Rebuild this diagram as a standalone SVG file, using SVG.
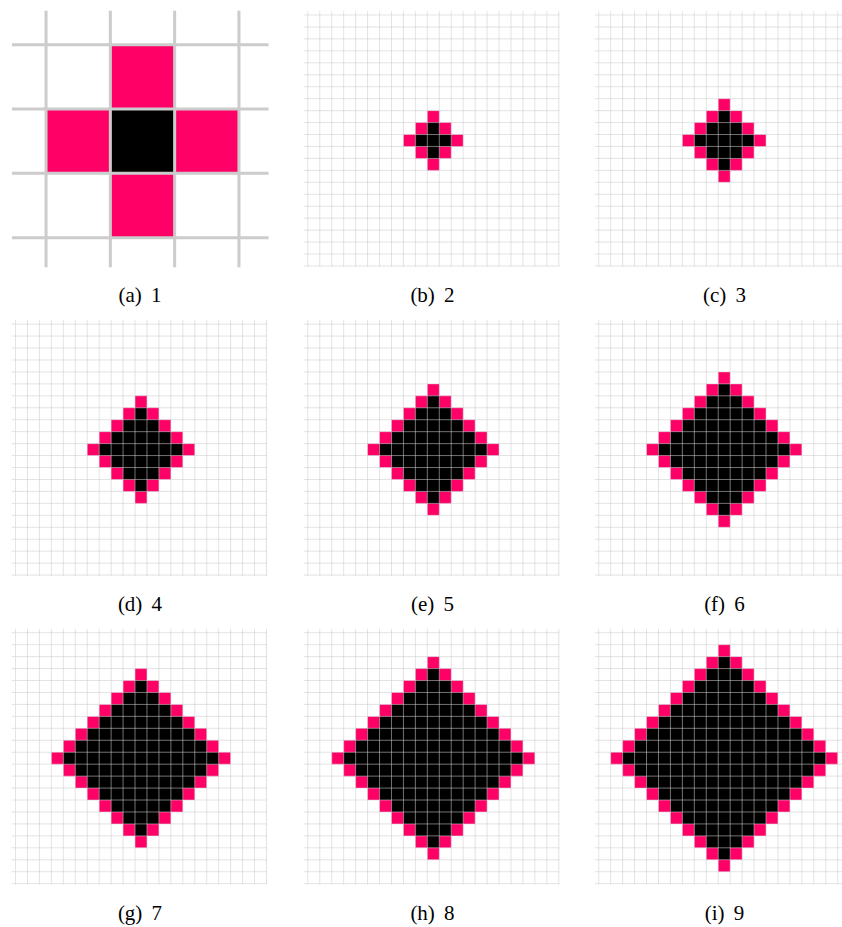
<svg xmlns="http://www.w3.org/2000/svg" xmlns:xlink="http://www.w3.org/1999/xlink" width="842" height="927" viewBox="0 0 842 927">
<style>
.grid{fill:none;stroke:#cccccc;stroke-width:0.047}
.pink{fill:#ff0066}
.blk{fill:#000000}
.lbl{font-family:"Liberation Serif","DejaVu Serif",serif;font-size:21px;text-anchor:middle;fill:#000;word-spacing:4px}
</style>
<defs>
<path id="fg" d="M-10.5 -10.83V10.55M-9.5 -10.83V10.55M-8.5 -10.83V10.55M-7.5 -10.83V10.55M-6.5 -10.83V10.55M-5.5 -10.83V10.55M-4.5 -10.83V10.55M-3.5 -10.83V10.55M-2.5 -10.83V10.55M-1.5 -10.83V10.55M-.5 -10.83V10.55M.5 -10.83V10.55M1.5 -10.83V10.55M2.5 -10.83V10.55M3.5 -10.83V10.55M4.5 -10.83V10.55M5.5 -10.83V10.55M6.5 -10.83V10.55M7.5 -10.83V10.55M8.5 -10.83V10.55M9.5 -10.83V10.55M10.5 -10.83V10.55M-10.83 -10.5H10.55M-10.83 -9.5H10.55M-10.83 -8.5H10.55M-10.83 -7.5H10.55M-10.83 -6.5H10.55M-10.83 -5.5H10.55M-10.83 -4.5H10.55M-10.83 -3.5H10.55M-10.83 -2.5H10.55M-10.83 -1.5H10.55M-10.83 -.5H10.55M-10.83 .5H10.55M-10.83 1.5H10.55M-10.83 2.5H10.55M-10.83 3.5H10.55M-10.83 4.5H10.55M-10.83 5.5H10.55M-10.83 6.5H10.55M-10.83 7.5H10.55M-10.83 8.5H10.55M-10.83 9.5H10.55M-10.83 10.5H10.55"/>
<path id="d0" d="M-.5 -.5h1v1h-1z"/>
<path id="d1" d="M-.5 -1.5h1v1h-1zM-1.5 -.5h3v1h-3zM-.5 .5h1v1h-1z"/>
<path id="d2" d="M-.5 -2.5h1v1h-1zM-1.5 -1.5h3v1h-3zM-2.5 -.5h5v1h-5zM-1.5 .5h3v1h-3zM-.5 1.5h1v1h-1z"/>
<path id="d3" d="M-.5 -3.5h1v1h-1zM-1.5 -2.5h3v1h-3zM-2.5 -1.5h5v1h-5zM-3.5 -.5h7v1h-7zM-2.5 .5h5v1h-5zM-1.5 1.5h3v1h-3zM-.5 2.5h1v1h-1z"/>
<path id="d4" d="M-.5 -4.5h1v1h-1zM-1.5 -3.5h3v1h-3zM-2.5 -2.5h5v1h-5zM-3.5 -1.5h7v1h-7zM-4.5 -.5h9v1h-9zM-3.5 .5h7v1h-7zM-2.5 1.5h5v1h-5zM-1.5 2.5h3v1h-3zM-.5 3.5h1v1h-1z"/>
<path id="d5" d="M-.5 -5.5h1v1h-1zM-1.5 -4.5h3v1h-3zM-2.5 -3.5h5v1h-5zM-3.5 -2.5h7v1h-7zM-4.5 -1.5h9v1h-9zM-5.5 -.5h11v1h-11zM-4.5 .5h9v1h-9zM-3.5 1.5h7v1h-7zM-2.5 2.5h5v1h-5zM-1.5 3.5h3v1h-3zM-.5 4.5h1v1h-1z"/>
<path id="d6" d="M-.5 -6.5h1v1h-1zM-1.5 -5.5h3v1h-3zM-2.5 -4.5h5v1h-5zM-3.5 -3.5h7v1h-7zM-4.5 -2.5h9v1h-9zM-5.5 -1.5h11v1h-11zM-6.5 -.5h13v1h-13zM-5.5 .5h11v1h-11zM-4.5 1.5h9v1h-9zM-3.5 2.5h7v1h-7zM-2.5 3.5h5v1h-5zM-1.5 4.5h3v1h-3zM-.5 5.5h1v1h-1z"/>
<path id="d7" d="M-.5 -7.5h1v1h-1zM-1.5 -6.5h3v1h-3zM-2.5 -5.5h5v1h-5zM-3.5 -4.5h7v1h-7zM-4.5 -3.5h9v1h-9zM-5.5 -2.5h11v1h-11zM-6.5 -1.5h13v1h-13zM-7.5 -.5h15v1h-15zM-6.5 .5h13v1h-13zM-5.5 1.5h11v1h-11zM-4.5 2.5h9v1h-9zM-3.5 3.5h7v1h-7zM-2.5 4.5h5v1h-5zM-1.5 5.5h3v1h-3zM-.5 6.5h1v1h-1z"/>
<path id="d8" d="M-.5 -8.5h1v1h-1zM-1.5 -7.5h3v1h-3zM-2.5 -6.5h5v1h-5zM-3.5 -5.5h7v1h-7zM-4.5 -4.5h9v1h-9zM-5.5 -3.5h11v1h-11zM-6.5 -2.5h13v1h-13zM-7.5 -1.5h15v1h-15zM-8.5 -.5h17v1h-17zM-7.5 .5h15v1h-15zM-6.5 1.5h13v1h-13zM-5.5 2.5h11v1h-11zM-4.5 3.5h9v1h-9zM-3.5 4.5h7v1h-7zM-2.5 5.5h5v1h-5zM-1.5 6.5h3v1h-3zM-.5 7.5h1v1h-1z"/>
<path id="d9" d="M-.5 -9.5h1v1h-1zM-1.5 -8.5h3v1h-3zM-2.5 -7.5h5v1h-5zM-3.5 -6.5h7v1h-7zM-4.5 -5.5h9v1h-9zM-5.5 -4.5h11v1h-11zM-6.5 -3.5h13v1h-13zM-7.5 -2.5h15v1h-15zM-8.5 -1.5h17v1h-17zM-9.5 -.5h19v1h-19zM-8.5 .5h17v1h-17zM-7.5 1.5h15v1h-15zM-6.5 2.5h13v1h-13zM-5.5 3.5h11v1h-11zM-4.5 4.5h9v1h-9zM-3.5 5.5h7v1h-7zM-2.5 6.5h5v1h-5zM-1.5 7.5h3v1h-3zM-.5 8.5h1v1h-1z"/>
</defs>
<rect width="842" height="927" fill="#ffffff"/>
<g id="panel-a">
<g transform="translate(142.5 141.2) scale(64.3)">
<use xlink:href="#d1" class="pink"/>
<use xlink:href="#d0" class="blk"/>
<path class="grid" d="M-1.5 -2.03V1.96M-.5 -2.03V1.96M.5 -2.03V1.96M1.5 -2.03V1.96M-2.03 -1.5H1.96M-2.03 -.5H1.96M-2.03 .5H1.96M-2.03 1.5H1.96"/>
</g>
<text class="lbl" x="140" y="302">(a) 1</text>
</g>
<g id="panel-b">
<g transform="translate(433.3 140.5) scale(11.95)">
<use xlink:href="#d2" class="pink"/>
<use xlink:href="#d1" class="blk"/>
<use xlink:href="#fg" class="grid"/>
</g>
<text class="lbl" x="432.5" y="302">(b) 2</text>
</g>
<g id="panel-c">
<g transform="translate(724.2 140.5) scale(11.95)">
<use xlink:href="#d3" class="pink"/>
<use xlink:href="#d2" class="blk"/>
<use xlink:href="#fg" class="grid"/>
</g>
<text class="lbl" x="724.5" y="302">(c) 3</text>
</g>
<g id="panel-d">
<g transform="translate(141 449.6) scale(11.95)">
<use xlink:href="#d4" class="pink"/>
<use xlink:href="#d3" class="blk"/>
<use xlink:href="#fg" class="grid"/>
</g>
<text class="lbl" x="140" y="611">(d) 4</text>
</g>
<g id="panel-e">
<g transform="translate(433.3 449.6) scale(11.95)">
<use xlink:href="#d5" class="pink"/>
<use xlink:href="#d4" class="blk"/>
<use xlink:href="#fg" class="grid"/>
</g>
<text class="lbl" x="432.5" y="611">(e) 5</text>
</g>
<g id="panel-f">
<g transform="translate(724.2 449.6) scale(11.95)">
<use xlink:href="#d6" class="pink"/>
<use xlink:href="#d5" class="blk"/>
<use xlink:href="#fg" class="grid"/>
</g>
<text class="lbl" x="724.5" y="611">(f) 6</text>
</g>
<g id="panel-g">
<g transform="translate(141 758.2) scale(11.95)">
<use xlink:href="#d7" class="pink"/>
<use xlink:href="#d6" class="blk"/>
<use xlink:href="#fg" class="grid"/>
</g>
<text class="lbl" x="140" y="920">(g) 7</text>
</g>
<g id="panel-h">
<g transform="translate(433.3 758.2) scale(11.95)">
<use xlink:href="#d8" class="pink"/>
<use xlink:href="#d7" class="blk"/>
<use xlink:href="#fg" class="grid"/>
</g>
<text class="lbl" x="432.5" y="920">(h) 8</text>
</g>
<g id="panel-i">
<g transform="translate(724.2 758.2) scale(11.95)">
<use xlink:href="#d9" class="pink"/>
<use xlink:href="#d8" class="blk"/>
<use xlink:href="#fg" class="grid"/>
</g>
<text class="lbl" x="724.5" y="920">(i) 9</text>
</g>
</svg>
